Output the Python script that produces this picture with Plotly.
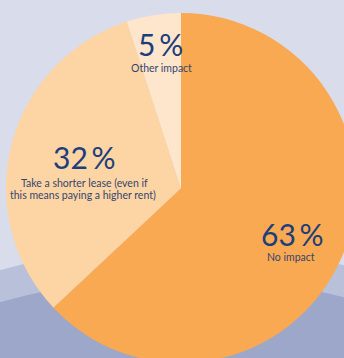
import plotly.graph_objects as go

# ---- data ----
labels = ["No impact", "Take a shorter lease (even if this means paying a higher rent)", "Other impact"]
values = [63, 32, 5]
pct_text = ["63\u2009%", "32\u2009%", "5\u2009%"]
label_lines = [["No impact"], ["Take a shorter lease (even if", "this means paying a higher rent)"], ["Other impact"]]
colors = ["#F9A952", "#FDD4A3", "#FEE6CC"]

# ---- canvas geometry (pixels) ----
W, H = 356, 363  # figure slightly larger than the viewport so the pie bleeds off the edge


def fx(px):
    return px / W


def fy(py):
    return 1 - py / H


fig = go.Figure()
fig.add_trace(go.Pie(
    labels=labels,
    values=values,
    sort=False,
    direction="clockwise",
    rotation=0,
    marker=dict(colors=colors, line=dict(width=0)),
    textinfo="none",
    hoverinfo="label+percent",
    showlegend=False,
    domain=dict(x=[fx(6), 1], y=[0, fy(13)]),
))

# background decorative arcs
shapes = []
for (cy, R, col) in [(909, 664, "#B9C0DA"), (941, 664, "#9DA7C9")]:
    shapes.append(dict(type="circle", xref="paper", yref="paper", layer="below",
                       x0=fx(181 - R), x1=fx(181 + R), y0=fy(cy + R), y1=fy(cy - R),
                       fillcolor=col, line=dict(width=0)))

num_pos = [(292, 234), (84, 157), (160, 44)]
lab_pos = [[(291, 257)], [(84, 183), (83, 195)], [(161, 68)]]
annotations = []
for i in range(len(values)):
    x, y = num_pos[i]
    annotations.append(dict(x=fx(x), y=fy(y), xref="paper", yref="paper", text=pct_text[i],
                            showarrow=False, xanchor="center", yanchor="middle",
                            font=dict(family="Lato", size=30, color="#1B3F7B")))
    for (lx, ly), t in zip(lab_pos[i], label_lines[i]):
        annotations.append(dict(x=fx(lx), y=fy(ly), xref="paper", yref="paper", text=t,
                                showarrow=False, xanchor="center", yanchor="middle",
                                font=dict(family="Lato", size=10.5, color="#34466E")))

fig.update_layout(
    width=W, height=H,
    margin=dict(l=0, r=0, t=0, b=0),
    paper_bgcolor="#D8DCEB",
    plot_bgcolor="#D8DCEB",
    shapes=shapes,
    annotations=annotations,
)

fig.write_html("out.html", config={"displayModeBar": False},
               post_script="document.body.style.overflow='hidden';document.documentElement.style.overflow='hidden';document.body.style.margin='0';")
